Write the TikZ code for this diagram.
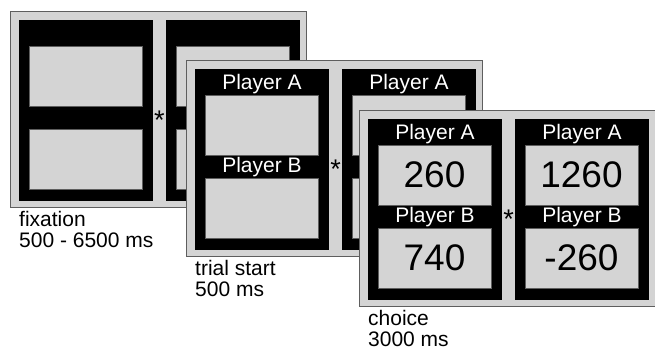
\documentclass[tikz,border=0pt]{standalone}
\usepackage{xcolor}
\usepackage{fontspec}
\setmainfont{Liberation Sans}
\usepackage{tikz}

\definecolor{scrgray}{HTML}{D4D4D4}
\definecolor{rimgray}{HTML}{5E5E5E}

\begin{document}
\begin{tikzpicture}[x=1pt,y=-1pt,
		screen/.style={fill=scrgray,draw=rimgray,line width=1pt},
		panel/.style={fill=black},
		slot/.style={fill=scrgray,draw=rimgray,line width=.6pt},
		lbl/.style={text=white,font=\fontsize{21}{21}\selectfont,inner sep=0pt,anchor=base},
		num/.style={font=\fontsize{37}{37}\selectfont,inner sep=0pt},
		fixmark/.style={font=\fontsize{27}{27}\selectfont,inner sep=0pt,anchor=base},
		timing/.style={font=\fontsize{21}{21}\selectfont,align=left,inner sep=0pt,anchor=north west}]

			\useasboundingbox (0,0) rectangle (655,350);

			% fixation
			\begin{scope}[shift={(10,12)}]
				\draw [screen] (0,0) rectangle (296,195);
				\foreach \px in {9,156} {
					\fill [panel] (\px,8) rectangle ++(134,181);
					\draw [slot] (\px+10,34) rectangle ++(113,60);
					\draw [slot] (\px+10,117) rectangle ++(113,60);
				}
				\node [fixmark] (fixstar) at (149.5,117) {*};
				\node [timing] (fixcap) at (9,199) {fixation\\500 - 6500 ms};
			\end{scope}

			% trial start
			\begin{scope}[shift={(186,61)}]
				\draw [screen] (0,0) rectangle (296,195);
				\foreach \px [count=\i] in {9,156} {
					\fill [panel] (\px,8) rectangle ++(134,181);
					\draw [slot] (\px+10,34) rectangle ++(113,60);
					\draw [slot] (\px+10,117) rectangle ++(113,60);
					\node [lbl] (trialA\i) at (\px+67,28.5) {Player A};
				}
				% right Player B sits under the choice screen
				\node [lbl] (trialB1) at (76,111.5) {Player B};
				\node [fixmark] (trialstar) at (149.5,117) {*};
				\node [timing] (trialcap) at (9,199) {trial start\\500 ms};
			\end{scope}

			% choice
			\begin{scope}[shift={(359,111)}]
				\draw [screen] (0,0) rectangle (296,195);
				\foreach \px/\va/\vb [count=\i] in {9/260/740, 156/1260/-260} {
					\fill [panel] (\px,8) rectangle ++(134,181);
					\draw [slot] (\px+10,34) rectangle ++(113,60);
					\draw [slot] (\px+10,117) rectangle ++(113,60);
					\node [lbl] (choiceA\i) at (\px+67,28.5) {Player A};
					\node [lbl] (choiceB\i) at (\px+67,111.5) {Player B};
					\node [num] (payA\i) at (\px+66.5,64) {\va};
					\node [num] (payB\i) at (\px+66.5,147) {\vb};
				}
				\node [fixmark] (choicestar) at (149.5,117) {*};
				\node [timing] (choicecap) at (9,199) {choice\\3000 ms};
			\end{scope}
		\end{tikzpicture}
\end{document}
